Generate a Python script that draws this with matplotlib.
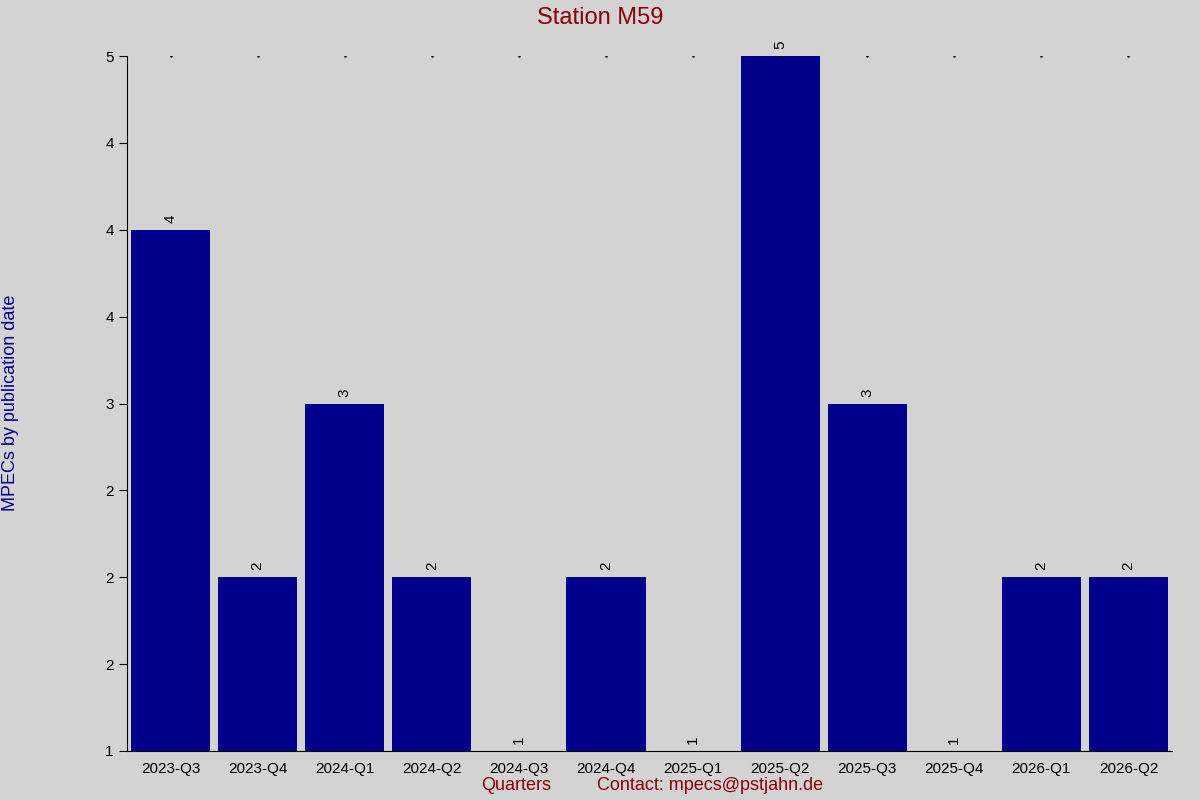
import matplotlib
matplotlib.use("Agg")
import matplotlib.pyplot as plt
import numpy as np

plt.rcParams['font.family'] = ['Liberation Sans', 'DejaVu Sans']

categories = ["2023-Q3","2023-Q4","2024-Q1","2024-Q2","2024-Q3","2024-Q4",
              "2025-Q1","2025-Q2","2025-Q3","2025-Q4","2026-Q1","2026-Q2"]
values = [4, 2, 3, 2, 1, 2, 1, 5, 3, 1, 2, 2]
yticks = [1, 1.5, 2, 2.5, 3, 3.5, 4, 4.5, 5]

fig = plt.figure(figsize=(12, 8), dpi=100, facecolor='#d3d3d3')
ax = fig.add_axes([127/1200, 1-751/800, (1172-127)/1200, (751-56)/800])
ax.set_facecolor('#d3d3d3')
x = np.arange(len(categories))
base = 1
ax.bar(x, [v - base for v in values], bottom=base, width=0.91, color='#00008b')
for xi, v in zip(x, values):
    ax.text(xi, v + 0.04, str(v), rotation=90, ha='center', va='bottom', fontsize=11)
ax.plot(x, [5]*len(x), linestyle='none', marker='.', markersize=1.5, color='black')
ax.set_xlim(-0.5, len(categories) - 0.5)
ax.set_ylim(1, 5)
ax.set_yticks(yticks)
ax.set_yticklabels([str(round(t)) for t in yticks], fontsize=11)
ax.set_xticks(x)
ax.set_xticklabels(categories, fontsize=11)
ax.tick_params(axis='x', length=0, pad=8)
ax.tick_params(axis='y', length=6, direction='out')
for s in ['top', 'right']:
    ax.spines[s].set_visible(False)
fig.text(0.5, 1-18/800, "Station M59", ha='center', va='center', fontsize=17, color='#8b0000')
fig.text(516/1200, 1-786/800, "Quarters", ha='center', va='center', fontsize=13, color='#8b0000')
fig.text(710/1200, 1-786/800, "Contact: mpecs@pstjahn.de", ha='center', va='center', fontsize=13, color='#8b0000')
fig.text(11/1200, 1-403/800, "MPECs by publication date", rotation=90, ha='center', va='center', fontsize=13, color='#00008b')
fig.savefig("out.png", dpi=100, facecolor='#d3d3d3')
